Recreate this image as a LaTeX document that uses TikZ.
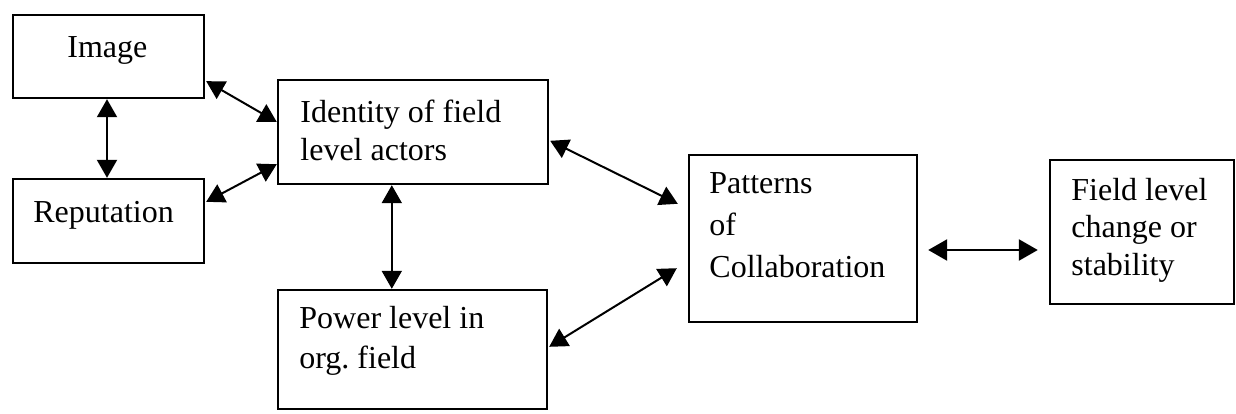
\documentclass[tikz,border=0pt]{standalone}
\usepackage{fontspec}
\setmainfont{Liberation Serif}
\usetikzlibrary{arrows.meta,fit}
\begin{document}
\begin{tikzpicture}[x=0.5pt,y=-0.5pt,
  box/.style={draw, line width=1.2pt, inner sep=0pt, fit={#1}},
  txt/.style={inner sep=0pt, anchor=base west, align=left},
  link/.style={line width=1pt, {Triangle[length=9pt,width=10pt]}-{Triangle[length=9pt,width=10pt]}},
  wide/.style={line width=1.3pt, {Triangle[length=9.5pt,width=10.5pt]}-{Triangle[length=9.5pt,width=10.5pt]}}]
\useasboundingbox (0,0) rectangle (1236,413);

% boxes
\node[box={(13,15) (204,98)}] (img) {};
\node[box={(13,179) (204,263)}] (rep) {};
\node[box={(278,80) (548,184)}] (idn) {};
\node[box={(278,290) (547,409)}] (pow) {};
\node[box={(689,155) (917,322)}] (pat) {};
\node[box={(1050,160) (1234,304)}] (fld) {};

% labels (anchored at the baseline of the last line)
\node[txt, font=\fontsize{16pt}{19pt}\selectfont] (timg) at (67,57) {Image};
\node[txt, font=\fontsize{16pt}{19pt}\selectfont] (trep) at (33,222) {Reputation};
\node[txt, font=\fontsize{16pt}{19pt}\selectfont] (tidn) at (300,160) {Identity of field\\level actors};
\node[txt, font=\fontsize{16pt}{20pt}\selectfont] (tpow) at (299,368) {Power level in\\org.\ field};
\node[txt, font=\fontsize{16pt}{21pt}\selectfont] (tpat) at (709,277) {Patterns\\of\\Collaboration};
\node[txt, font=\fontsize{16pt}{18.75pt}\selectfont] (tfld) at (1071,275) {Field level\\change or\\stability};

% connectors
\draw[link] ([xshift=-0.75pt]img.south) -- ([xshift=-0.75pt]rep.north);
\draw[link] ([xshift=0.5pt,yshift=9pt]img.south east) -- ([yshift=5pt]idn.west);
\draw[link] ([xshift=0.5pt,yshift=-12pt]rep.north east) -- ([yshift=10.5pt]idn.south west);
\draw[link] ([xshift=57.5pt]idn.south west) -- ([xshift=57.5pt]pow.north west);
\draw[link] ([xshift=0.5pt,yshift=-31pt]idn.north east) -- ([xshift=-5pt,yshift=-25pt]pat.north west);
\draw[link] ([xshift=0.5pt,yshift=-29pt]pow.north east) -- ([xshift=-5.5pt,yshift=27.5pt]pat.south west);
\draw[wide] ([xshift=5pt,yshift=-5.75pt]pat.east) -- ([xshift=-5.5pt,yshift=-9pt]fld.west);
\end{tikzpicture}
\end{document}
